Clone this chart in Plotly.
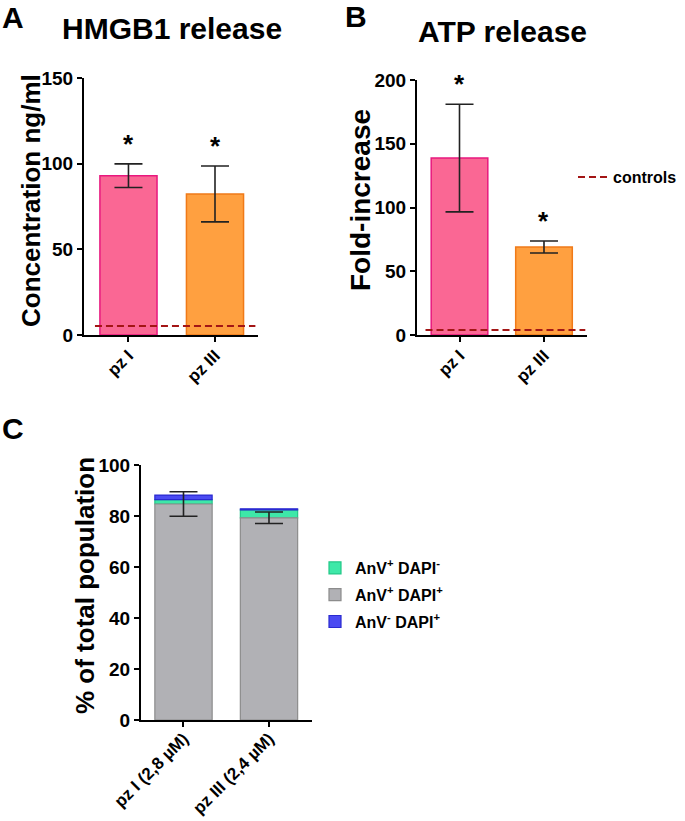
import plotly.graph_objects as go

# ---------------- data ----------------
cats_ab = ["pz I", "pz III"]
hmgb1_mean = [93.0, 82.3]
hmgb1_err = [6.9, 16.3]
hmgb1_control = 5.3

atp_mean = [138.8, 69.0]
atp_err = [42.2, 4.7]
atp_control = 3.9

cats_c = ["pz I (2,8 \u00b5M)", "pz III (2,4 \u00b5M)"]
anv_pos_dapi_pos = [84.7, 79.3]      # grey
anv_pos_dapi_pos_err = [4.8, 2.25]
anv_pos_dapi_neg = [1.7, 3.1]        # green
anv_neg_dapi_pos = [1.8, 0.4]        # blue

W, H = 685, 821
FONT = "Liberation Sans"
PINK, PINK_L = "#FA6794", "#E8187E"
ORANGE, ORANGE_L = "#FFA040", "#F07A18"
GREY, GREY_L = "#B1B1B5", "#8C8C8C"
GREEN, GREEN_L = "#3EE8A8", "#22C888"
BLUE, BLUE_L = "#4B4BF2", "#2A2AD0"
CTRL = "#A31515"


def px(x):
    return x / W


def py(y):
    return 1 - y / H


fig = go.Figure()

err_style = dict(type="data", color="#222222", thickness=1.6, width=14)

# Panel A
fig.add_trace(go.Bar(x=[0, 1], y=hmgb1_mean, width=0.66,
                     marker=dict(color=[PINK, ORANGE], line=dict(color=[PINK_L, ORANGE_L], width=1.5)),
                     error_y=dict(array=hmgb1_err, **err_style),
                     xaxis="x", yaxis="y", showlegend=False))
# Panel B
fig.add_trace(go.Bar(x=[0, 1], y=atp_mean, width=0.67,
                     marker=dict(color=[PINK, ORANGE], line=dict(color=[PINK_L, ORANGE_L], width=1.5)),
                     error_y=dict(array=atp_err, **err_style),
                     xaxis="x2", yaxis="y2", showlegend=False))

# Panel C (stacked via bases)
base_green = anv_pos_dapi_pos
base_blue = [a + b for a, b in zip(anv_pos_dapi_pos, anv_pos_dapi_neg)]
fig.add_trace(go.Bar(x=[0, 1], y=anv_pos_dapi_neg, base=base_green, width=0.67,
                     name="<b>AnV<sup>+</sup> DAPI<sup>-</sup></b>",
                     marker=dict(color=GREEN, line=dict(color=GREEN_L, width=1.2)),
                     xaxis="x3", yaxis="y3", legend="legend", legendrank=1, legendgroup="g1"))
fig.add_trace(go.Bar(x=[0, 1], y=anv_neg_dapi_pos, base=base_blue, width=0.67,
                     name="<b>AnV<sup>-</sup> DAPI<sup>+</sup></b>",
                     marker=dict(color=BLUE, line=dict(color=BLUE_L, width=1.2)),
                     xaxis="x3", yaxis="y3", legend="legend", legendrank=3, legendgroup="g3"))
fig.add_trace(go.Bar(x=[0, 1], y=anv_pos_dapi_pos, width=0.67,
                     name="<b>AnV<sup>+</sup> DAPI<sup>+</sup></b>",
                     marker=dict(color=GREY, line=dict(color=GREY_L, width=1.2)),
                     error_y=dict(array=anv_pos_dapi_pos_err, **err_style),
                     xaxis="x3", yaxis="y3", legend="legend", legendrank=2, legendgroup="g2"))

tickfont = dict(family=FONT, size=19, color="black", weight="bold")
xtickfont = dict(family=FONT, size=17, color="black", weight="bold")
axis_common = dict(showline=True, linecolor="black", linewidth=2, ticks="outside",
                   ticklen=5, tickwidth=2, tickcolor="black", showgrid=False,
                   zeroline=False, automargin=False, fixedrange=True)

fig.update_layout(
    width=W, height=H,
    margin=dict(l=0, r=0, t=0, b=0),
    paper_bgcolor="white", plot_bgcolor="white",
    barmode="overlay",
    xaxis=dict(domain=[px(84), px(258)], range=[-0.514, 1.497], tickvals=[0, 1],
               ticktext=cats_ab, tickangle=-45, tickfont=xtickfont, anchor="y",
               ticklabelstandoff=-3, **axis_common),
    yaxis=dict(domain=[py(335), py(78)], range=[0, 150], tickvals=[0, 50, 100, 150],
               tickfont=tickfont, anchor="x", **axis_common),
    xaxis2=dict(domain=[px(417), px(587)], range=[-0.503, 1.509], tickvals=[0, 1],
                ticktext=cats_ab, tickangle=-45, tickfont=xtickfont, anchor="y2",
                ticklabelstandoff=-3, **axis_common),
    yaxis2=dict(domain=[py(335), py(80)], range=[0, 200], tickvals=[0, 50, 100, 150, 200],
                tickfont=tickfont, anchor="x2", **axis_common),
    xaxis3=dict(domain=[px(141), px(312)], range=[-0.497, 1.503], tickvals=[0, 1],
                ticktext=cats_c, tickangle=-45, tickfont=xtickfont, anchor="y3",
                ticklabelstandoff=-5, **axis_common),
    yaxis3=dict(domain=[py(720), py(465)], range=[0, 100], tickvals=[0, 20, 40, 60, 80, 100],
                tickfont=tickfont, anchor="x3", **axis_common),
    legend=dict(x=px(315), y=py(551), xanchor="left", yanchor="top",
                font=dict(family=FONT, size=16, color="black"), bgcolor="rgba(0,0,0,0)",
                traceorder="grouped", tracegroupgap=3, itemwidth=30),
    legend2=dict(x=px(573), y=py(177), xanchor="left", yanchor="middle",
                 font=dict(family=FONT, size=16, color="black", weight="bold"),
                 bgcolor="rgba(0,0,0,0)"),
)

# control lines
fig.add_shape(type="line", xref="x domain", yref="y", x0=0.063, x1=0.985,
              y0=hmgb1_control, y1=hmgb1_control,
              line=dict(color=CTRL, width=2, dash="7px,4px"), showlegend=False)
fig.add_shape(type="line", xref="x2 domain", yref="y2", x0=0.05, x1=0.99,
              y0=atp_control, y1=atp_control,
              line=dict(color=CTRL, width=2, dash="7px,4px"),
              showlegend=True, legend="legend2", name="controls")

# significance stars
for xv, m, e in zip([0, 1], hmgb1_mean, hmgb1_err):
    fig.add_annotation(x=xv, y=m + e, xref="x", yref="y", text="<b>*</b>", showarrow=False,
                       yanchor="middle", yshift=20, font=dict(family=FONT, size=26, color="black"))
for xv, m, e in zip([0, 1], atp_mean, atp_err):
    fig.add_annotation(x=xv, y=m + e, xref="x2", yref="y2", text="<b>*</b>", showarrow=False,
                       yanchor="middle", yshift=20, font=dict(family=FONT, size=26, color="black"))

# titles / letters / axis titles
def note(text, x, y, size, xanchor="center", angle=0):
    fig.add_annotation(text=text, x=px(x), y=py(y), xref="paper", yref="paper",
                       showarrow=False, xanchor=xanchor, yanchor="middle", textangle=angle,
                       font=dict(family=FONT, size=size, color="black", weight="bold"))

note("A", 0, 18, 30, xanchor="left")
note("B", 343, 17, 30, xanchor="left")
note("C", 0, 428, 30, xanchor="left")
note("HMGB1 release", 172, 29, 30)
note("ATP release", 502, 31, 30)
note("Concentration ng/ml", 31, 201, 26, angle=-90)
note("Fold-increase", 360, 200, 28, angle=-90)
note("% of total population", 85, 586, 26, angle=-90)

fig.write_html("out.html", config={"displayModeBar": False},
               post_script="document.body.style.margin='0px';")
